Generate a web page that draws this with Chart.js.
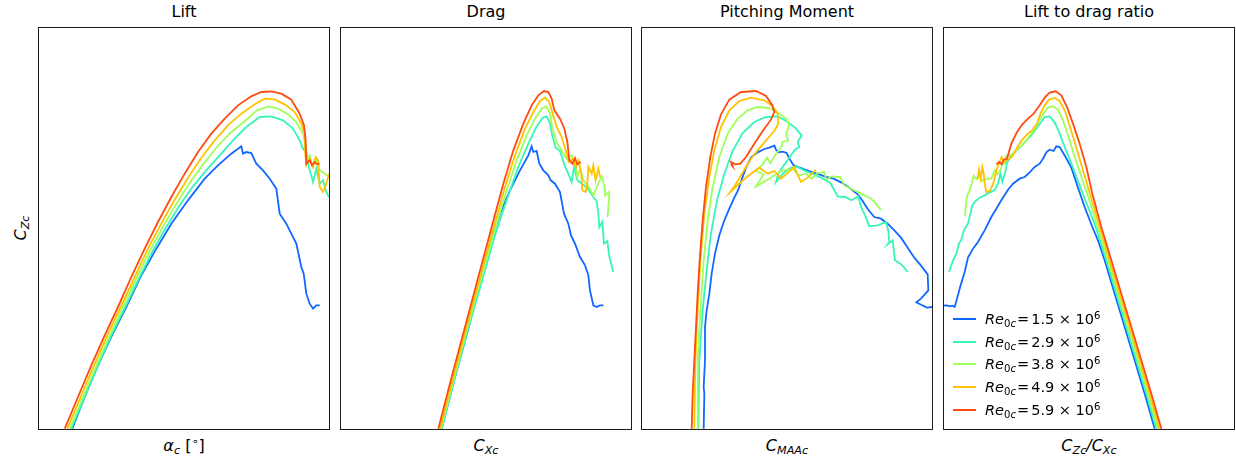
<!DOCTYPE html>
<html>
<head>
<meta charset="utf-8">
<script src="https://cdn.jsdelivr.net/npm/chart.js@4.4.1/dist/chart.umd.min.js"></script>
<style>
  body { margin: 0; background: #fff; }
  #fig { position: relative; width: 1236px; height: 461px; font-family: "DejaVu Sans", sans-serif; color: #000; }
  #fig canvas { position: absolute; top: 27px; }
  .title { position: absolute; top: 2px; width: 292px; text-align: center; font-size: 16px; line-height: 19px; }
  .xlabel { position: absolute; top: 436px; width: 292px; text-align: center; font-size: 16px; line-height: 19px; }
  .ylabel { position: absolute; left: 20px; top: 228px; font-size: 16px; line-height: 19px; transform: translate(-50%, -50%) rotate(-90deg); white-space: nowrap; }
  i { font-style: italic; }
  .sb { font-size: 70%; position: relative; top: 0.3em; line-height: 0; }
  .sp { font-size: 70%; position: relative; top: -0.5em; line-height: 0; }
  .eq { margin: 0 2px 0 1px; }
  .leg { position: absolute; left: 953px; width: 200px; height: 18px; }
  .leg span.ln { position: absolute; left: 0; top: 8px; width: 23px; height: 2px; }
  .leg span.tx { position: absolute; left: 32px; top: 0; font-size: 14.5px; line-height: 18px; white-space: nowrap; }
</style>
</head>
<body>
<div id="fig">
  <div class="title" style="left:38px">Lift</div>
  <div class="title" style="left:340px">Drag</div>
  <div class="title" style="left:641px">Pitching Moment</div>
  <div class="title" style="left:943px">Lift to drag ratio</div>
  <div class="ylabel"><i>C</i><span class="sb"><i>Zc</i></span></div>
  <div class="xlabel" style="left:38px"><i>α</i><span class="sb"><i>c</i></span> [<span class="sp">∘</span>]</div>
  <div class="xlabel" style="left:340px"><i>C</i><span class="sb"><i>Xc</i></span></div>
  <div class="xlabel" style="left:641px"><i>C</i><span class="sb"><i>MAAc</i></span></div>
  <div class="xlabel" style="left:943px"><i>C</i><span class="sb"><i>Zc</i></span><i>/C</i><span class="sb"><i>Xc</i></span></div>
  <canvas id="cLift" width="292" height="403" style="left:38px"></canvas>
  <canvas id="cDrag" width="292" height="403" style="left:340px"></canvas>
  <canvas id="cPitch" width="292" height="403" style="left:641px"></canvas>
  <canvas id="cRatio" width="292" height="403" style="left:943px"></canvas>
</div>
<script>
// Reynolds numbers (x 10^6) and colours (jet colormap)
const reLabels = ['1.5', '2.9', '3.8', '4.9', '5.9'];
const colour = ['#1168ff', '#36f5b8', '#a0ff5a', '#ffc200', '#ff4a12'];

// Lift: [alpha_c (deg), C_Zc]
const lift15 = [[0.43,-0.005],[1.67,0.09],[3.0,0.185],[4.4,0.275],[5.83,0.36],[7.33,0.455],[8.83,0.535],[10.33,0.61],[12.0,0.68],[13.67,0.745],[15.0,0.785],[16.33,0.82],[17.33,0.842],[17.5,0.82],[17.83,0.825],[18.33,0.822],[18.83,0.79],[19.5,0.77],[20.17,0.745],[20.83,0.715],[21.17,0.64],[21.83,0.61],[22.83,0.55],[23.33,0.48],[23.57,0.46],[23.83,0.4],[24.17,0.37],[24.5,0.355],[24.83,0.365],[25.17,0.365]];
const lift29 = [[0.33,-0.005],[1.67,0.09],[3.0,0.185],[4.33,0.275],[5.73,0.36],[7.17,0.45],[8.5,0.53],[9.83,0.6],[11.17,0.665],[12.5,0.722],[13.83,0.77],[15.17,0.815],[16.5,0.86],[17.83,0.9],[19.17,0.93],[20.33,0.932],[21.5,0.92],[22.5,0.895],[23.17,0.86],[23.5,0.835],[23.83,0.825],[24.07,0.78],[24.33,0.755],[24.5,0.735],[24.83,0.775],[25.17,0.73],[25.5,0.74],[25.83,0.705],[26.1,0.69]];
const lift38 = [[0.17,-0.005],[1.5,0.09],[2.83,0.185],[4.17,0.275],[5.5,0.36],[6.9,0.45],[8.23,0.532],[9.57,0.605],[10.9,0.673],[12.23,0.735],[13.57,0.79],[14.9,0.84],[16.23,0.882],[17.57,0.915],[18.9,0.95],[20.0,0.962],[21.0,0.955],[22.0,0.938],[22.83,0.915],[23.5,0.88],[23.67,0.855],[23.83,0.8],[24.17,0.815],[24.5,0.78],[24.77,0.805],[25.17,0.77],[25.67,0.76],[26.1,0.75]];
const lift49 = [[-0.07,-0.005],[1.27,0.09],[2.6,0.185],[3.93,0.275],[5.27,0.36],[6.67,0.45],[8.0,0.535],[9.33,0.61],[10.67,0.682],[12.0,0.748],[13.33,0.808],[14.67,0.86],[16.0,0.905],[17.33,0.94],[18.67,0.968],[19.67,0.985],[20.67,0.983],[21.67,0.968],[22.67,0.945],[23.33,0.91],[23.67,0.88],[23.73,0.82],[23.83,0.785],[24.17,0.805],[24.5,0.78],[24.77,0.81],[25.0,0.8],[25.17,0.72],[25.5,0.705],[25.83,0.73],[26.1,0.76]];
const lift59 = [[-0.33,-0.005],[1.0,0.09],[2.33,0.185],[3.67,0.275],[5.0,0.36],[6.33,0.45],[7.67,0.535],[9.0,0.615],[10.33,0.69],[11.67,0.76],[13.0,0.825],[14.33,0.88],[15.67,0.925],[17.0,0.965],[18.33,0.992],[19.33,1.005],[20.33,1.007],[21.33,1.0],[22.33,0.982],[23.17,0.94],[23.6,0.905],[23.77,0.86],[23.83,0.79],[24.17,0.8],[24.4,0.785],[24.67,0.795],[24.93,0.788],[25.17,0.79]];

// Drag: [C_Xc, C_Zc]
const drag15 = [[0.011,-0.005],[0.019,0.15],[0.027,0.295],[0.034,0.44],[0.04,0.55],[0.046,0.64],[0.052,0.71],[0.058,0.77],[0.063,0.815],[0.065,0.842],[0.066,0.825],[0.068,0.828],[0.0696,0.79],[0.072,0.77],[0.075,0.755],[0.0764,0.74],[0.079,0.73],[0.082,0.705],[0.0844,0.64],[0.087,0.61],[0.0886,0.575],[0.091,0.55],[0.094,0.51],[0.097,0.485],[0.099,0.455],[0.1,0.41],[0.102,0.365],[0.104,0.36],[0.106,0.365],[0.108,0.365]];
const drag29 = [[0.011,-0.005],[0.019,0.15],[0.027,0.295],[0.035,0.435],[0.043,0.575],[0.051,0.695],[0.057,0.78],[0.063,0.85],[0.068,0.902],[0.0716,0.928],[0.074,0.932],[0.076,0.912],[0.0772,0.878],[0.0794,0.838],[0.082,0.828],[0.085,0.782],[0.087,0.76],[0.089,0.735],[0.0904,0.78],[0.0924,0.74],[0.095,0.73],[0.0984,0.718],[0.102,0.69],[0.104,0.678],[0.105,0.64],[0.1056,0.6],[0.1074,0.615],[0.1084,0.55],[0.1104,0.558],[0.1116,0.51],[0.114,0.465]];
const drag38 = [[0.0106,-0.005],[0.0186,0.15],[0.0266,0.3],[0.0346,0.445],[0.0426,0.588],[0.05,0.71],[0.056,0.8],[0.062,0.875],[0.067,0.925],[0.071,0.955],[0.0736,0.962],[0.076,0.942],[0.0772,0.9],[0.08,0.855],[0.083,0.828],[0.086,0.805],[0.089,0.815],[0.091,0.79],[0.0924,0.75],[0.094,0.772],[0.0964,0.738],[0.0996,0.718],[0.102,0.695],[0.105,0.73],[0.107,0.752],[0.1086,0.725],[0.109,0.695],[0.1116,0.705],[0.1106,0.63]];
const drag49 = [[0.01,-0.005],[0.018,0.15],[0.026,0.3],[0.034,0.448],[0.042,0.595],[0.049,0.72],[0.055,0.815],[0.061,0.895],[0.066,0.945],[0.07,0.978],[0.073,0.988],[0.0756,0.975],[0.0776,0.94],[0.08,0.9],[0.083,0.87],[0.0854,0.83],[0.0872,0.795],[0.0896,0.805],[0.0916,0.78],[0.0932,0.8],[0.0948,0.76],[0.0954,0.71],[0.0974,0.705],[0.0984,0.73],[0.099,0.78],[0.101,0.76],[0.102,0.785],[0.1034,0.74],[0.105,0.775],[0.106,0.75]];
const drag59 = [[0.009,-0.005],[0.017,0.15],[0.025,0.3],[0.033,0.45],[0.041,0.6],[0.048,0.73],[0.054,0.83],[0.06,0.91],[0.065,0.965],[0.069,0.995],[0.0724,1.008],[0.075,1.005],[0.077,0.985],[0.0786,0.95],[0.082,0.925],[0.0846,0.895],[0.0864,0.855],[0.0876,0.8],[0.0894,0.79],[0.091,0.807],[0.0924,0.788],[0.0944,0.795]];

// Pitching moment: [C_MAAc, C_Zc]
const pitch15 = [[-0.0624,-0.005],[-0.062,0.1],[-0.0624,0.12],[-0.0616,0.2],[-0.0616,0.3],[-0.0606,0.35],[-0.059,0.4],[-0.0576,0.46],[-0.0556,0.52],[-0.053,0.575],[-0.05,0.62],[-0.047,0.655],[-0.044,0.688],[-0.0416,0.712],[-0.0396,0.742],[-0.037,0.778],[-0.034,0.808],[-0.03,0.824],[-0.026,0.834],[-0.023,0.838],[-0.02,0.844],[-0.019,0.832],[-0.0176,0.824],[-0.015,0.826],[-0.0126,0.822],[-0.0106,0.802],[-0.0086,0.786],[-0.0056,0.78],[-0.0016,0.772],[0.003,0.764],[0.007,0.758],[0.011,0.75],[0.0156,0.745],[0.02,0.734],[0.0244,0.72],[0.03,0.698],[0.033,0.678],[0.036,0.654],[0.04,0.63],[0.044,0.625],[0.048,0.61],[0.052,0.59],[0.056,0.568],[0.06,0.538],[0.064,0.508],[0.068,0.484],[0.072,0.458],[0.0724,0.41],[0.068,0.385],[0.0652,0.374],[0.0684,0.366],[0.0716,0.358],[0.0746,0.36]];
const pitch29 = [[-0.0656,-0.005],[-0.065,0.2],[-0.063,0.35],[-0.0604,0.48],[-0.058,0.58],[-0.0544,0.68],[-0.05,0.76],[-0.045,0.828],[-0.039,0.882],[-0.032,0.915],[-0.025,0.93],[-0.018,0.932],[-0.012,0.915],[-0.0076,0.898],[-0.0036,0.875],[-0.006,0.855],[-0.005,0.84],[-0.0076,0.832],[-0.01,0.815],[-0.0124,0.798],[-0.015,0.78],[-0.0176,0.76],[-0.019,0.735],[-0.015,0.76],[-0.011,0.775],[-0.007,0.782],[-0.003,0.772],[0.0024,0.76],[0.008,0.748],[0.0136,0.732],[0.018,0.692],[0.0224,0.69],[0.0264,0.68],[0.0304,0.692],[0.032,0.66],[0.0344,0.635],[0.037,0.602],[0.042,0.605],[0.047,0.615],[0.0484,0.588],[0.049,0.555],[0.048,0.548],[0.051,0.56],[0.0524,0.5],[0.0556,0.49],[0.058,0.478],[0.06,0.465]];
const pitch38 = [[-0.0664,-0.005],[-0.066,0.2],[-0.0644,0.35],[-0.0624,0.5],[-0.06,0.62],[-0.057,0.72],[-0.053,0.81],[-0.048,0.88],[-0.042,0.925],[-0.036,0.95],[-0.03,0.96],[-0.023,0.957],[-0.018,0.944],[-0.013,0.925],[-0.011,0.908],[-0.013,0.878],[-0.0116,0.86],[-0.015,0.855],[-0.016,0.838],[-0.019,0.82],[-0.0224,0.792],[-0.0244,0.808],[-0.027,0.788],[-0.031,0.768],[-0.0264,0.758],[-0.031,0.722],[-0.023,0.745],[-0.016,0.768],[-0.009,0.775],[-0.0056,0.755],[-0.001,0.76],[0.0024,0.745],[0.006,0.762],[0.01,0.765],[0.0112,0.742],[0.0144,0.752],[0.0196,0.75],[0.022,0.724],[0.028,0.71],[0.033,0.698],[0.038,0.685],[0.041,0.67],[0.044,0.65]];
const pitch49 = [[-0.068,-0.005],[-0.0674,0.2],[-0.066,0.35],[-0.0644,0.5],[-0.062,0.64],[-0.059,0.75],[-0.056,0.83],[-0.052,0.9],[-0.047,0.95],[-0.041,0.978],[-0.034,0.988],[-0.026,0.98],[-0.021,0.962],[-0.018,0.94],[-0.0176,0.91],[-0.02,0.888],[-0.025,0.86],[-0.03,0.83],[-0.034,0.805],[-0.037,0.78],[-0.04,0.755],[-0.0436,0.725],[-0.0464,0.705],[-0.04,0.735],[-0.034,0.76],[-0.029,0.778],[-0.024,0.76],[-0.02,0.768],[-0.016,0.745],[-0.008,0.78],[-0.004,0.735],[0.0,0.748],[0.005,0.772]];
const pitch59 = [[-0.0696,-0.005],[-0.069,0.1],[-0.068,0.2],[-0.067,0.3],[-0.066,0.4],[-0.0648,0.5],[-0.063,0.62],[-0.061,0.72],[-0.0584,0.81],[-0.0556,0.88],[-0.052,0.938],[-0.047,0.982],[-0.04,1.005],[-0.031,1.008],[-0.025,0.993],[-0.0214,0.967],[-0.02,0.945],[-0.022,0.922],[-0.027,0.888],[-0.032,0.85],[-0.037,0.81],[-0.0404,0.79],[-0.0434,0.788],[-0.046,0.795],[-0.045,0.782],[-0.046,0.788]];

// Lift to drag ratio: [C_Zc/C_Xc, C_Zc]
const ratio15 = [[26.75,-0.005],[25.25,0.1],[23.75,0.2],[22.25,0.3],[20.75,0.4],[19.25,0.5],[18.25,0.56],[17.4,0.6],[16.25,0.66],[15.25,0.718],[14.25,0.778],[13.3,0.813],[12.5,0.84],[12.0,0.842],[11.6,0.828],[11.0,0.832],[10.5,0.824],[10.0,0.805],[9.5,0.79],[8.75,0.78],[8.0,0.764],[7.25,0.75],[6.5,0.745],[5.5,0.73],[4.75,0.712],[3.75,0.68],[3.0,0.655],[2.25,0.63],[1.25,0.59],[0.25,0.555],[-0.5,0.535],[-1.25,0.508],[-1.75,0.465],[-2.4,0.422],[-2.9,0.385],[-3.25,0.36],[-3.6,0.364],[-4.0,0.362],[-4.4,0.365],[-5.0,0.364]];
const ratio29 = [[27.0,-0.005],[25.5,0.1],[24.0,0.2],[22.5,0.3],[21.0,0.4],[19.5,0.5],[17.9,0.6],[16.4,0.678],[15.25,0.738],[14.25,0.79],[13.25,0.84],[12.5,0.88],[11.75,0.914],[11.0,0.932],[10.25,0.93],[9.6,0.912],[8.9,0.892],[8.25,0.875],[7.5,0.86],[6.75,0.842],[6.0,0.83],[5.25,0.815],[4.6,0.792],[4.3,0.762],[3.9,0.735],[3.6,0.76],[3.25,0.73],[2.75,0.71],[2.0,0.704],[1.25,0.695],[0.5,0.688],[-0.1,0.678],[-0.6,0.665],[-0.9,0.64],[-1.25,0.61],[-1.5,0.602],[-1.9,0.588],[-2.25,0.562],[-2.6,0.55],[-3.0,0.52],[-3.5,0.5],[-4.1,0.465]];
const ratio38 = [[27.25,-0.005],[25.75,0.1],[24.25,0.2],[22.75,0.3],[21.25,0.4],[19.75,0.5],[18.2,0.6],[16.8,0.69],[15.6,0.76],[14.6,0.82],[13.75,0.875],[13.0,0.92],[12.25,0.952],[11.5,0.962],[10.75,0.958],[10.1,0.942],[9.5,0.922],[8.9,0.898],[8.2,0.878],[7.5,0.86],[6.7,0.842],[5.9,0.828],[5.15,0.815],[4.5,0.815],[4.3,0.79],[3.9,0.788],[3.6,0.77],[3.15,0.758],[2.75,0.77],[2.25,0.745],[1.5,0.745],[0.9,0.738],[0.4,0.758],[0.0,0.744],[-0.4,0.754],[-0.7,0.73],[-1.0,0.71],[-1.3,0.698],[-1.5,0.68],[-1.7,0.632]];
const ratio49 = [[27.5,-0.005],[26.0,0.1],[24.5,0.2],[23.0,0.3],[21.5,0.4],[20.0,0.5],[18.5,0.6],[17.1,0.695],[16.0,0.77],[15.0,0.838],[14.1,0.898],[13.3,0.948],[12.5,0.978],[11.75,0.987],[10.9,0.982],[10.25,0.965],[9.65,0.942],[9.1,0.91],[8.4,0.89],[7.6,0.878],[6.9,0.862],[6.1,0.838],[5.35,0.81],[4.6,0.8],[4.1,0.795],[3.8,0.81],[3.4,0.792],[3.0,0.77],[2.6,0.735],[2.1,0.71],[1.5,0.705],[1.25,0.73],[1.1,0.76],[0.9,0.78],[0.65,0.745],[0.4,0.772],[0.2,0.742]];
const ratio59 = [[27.75,-0.005],[26.25,0.1],[24.75,0.2],[23.25,0.3],[21.75,0.4],[20.25,0.5],[18.75,0.6],[17.4,0.7],[16.5,0.78],[15.5,0.85],[14.5,0.91],[13.6,0.96],[12.75,0.995],[11.9,1.007],[11.0,1.003],[10.25,0.988],[9.5,0.965],[8.6,0.94],[7.75,0.925],[6.9,0.908],[6.1,0.885],[5.25,0.85],[4.6,0.805],[4.1,0.802],[3.8,0.788],[3.4,0.795],[3.0,0.788]];

const panels = [
    { canvas: 'cLift',  xMin: -3,    xMax: 26.2,   series: [lift15, lift29, lift38, lift49, lift59] },
    { canvas: 'cDrag',  xMin: -0.05, xMax: 0.1252, series: [drag15, drag29, drag38, drag49, drag59] },
    { canvas: 'cPitch', xMin: -0.1,  xMax: 0.0752, series: [pitch15, pitch29, pitch38, pitch49, pitch59] },
    { canvas: 'cRatio', xMin: -5,    xMax: 38.8,   series: [ratio15, ratio29, ratio38, ratio49, ratio59] }
];
const czMin = -0.009;
const czMax = 1.2;

const framePlugin = {
    id: 'frame',
    afterDraw(chart) {
        const ctx = chart.ctx;
        const a = chart.chartArea;
        ctx.save();
        ctx.strokeStyle = '#1c1c1c';
        ctx.lineWidth = 1;
        ctx.strokeRect(a.left + 0.5, a.top + 0.5, a.right - a.left - 1, a.bottom - a.top - 1);
        ctx.restore();
    }
};

function PlotPanel(p){
    var datasets = [];
    for (var i = 0; i < p.series.length; i++){
        datasets.push({
            label: 'Re = ' + reLabels[i] + 'e6',
            data: p.series[i].map(function(d){ return {x: d[0], y: d[1]}; }),
            borderColor: colour[i],
            backgroundColor: colour[i],
            borderWidth: 1.8,
            pointRadius: 0,
            fill: false,
            tension: 0,
            order: p.series.length - i
        });
    }
    new Chart(document.getElementById(p.canvas).getContext('2d'), {
        type: 'line',
        data: { datasets: datasets },
        options: {
            responsive: false,
            animation: false,
            devicePixelRatio: 1,
            layout: { padding: 0 },
            plugins: { legend: { display: false }, tooltip: { enabled: false } },
            scales: {
                x: { type: 'linear', display: false, min: p.xMin, max: p.xMax },
                y: { type: 'linear', display: false, min: czMin, max: czMax }
            }
        },
        plugins: [framePlugin]
    });
}

panels.forEach(PlotPanel);

// legend (drawn as text so the subscripts/superscripts survive)
var legendTop = [310, 333, 355, 378, 401];
var fig = document.getElementById('fig');
for (var i = 0; i < reLabels.length; i++){
    var row = document.createElement('div');
    row.className = 'leg';
    row.style.top = legendTop[i] + 'px';
    row.innerHTML = '<span class="ln" style="background:' + colour[i] + '"></span>' +
        '<span class="tx"><i>Re</i><span class="sb">0<i>c</i></span><span class="eq">=</span>' + reLabels[i] +
        ' × 10<span class="sp">6</span></span>';
    fig.appendChild(row);
}
</script>
</body>
</html>
